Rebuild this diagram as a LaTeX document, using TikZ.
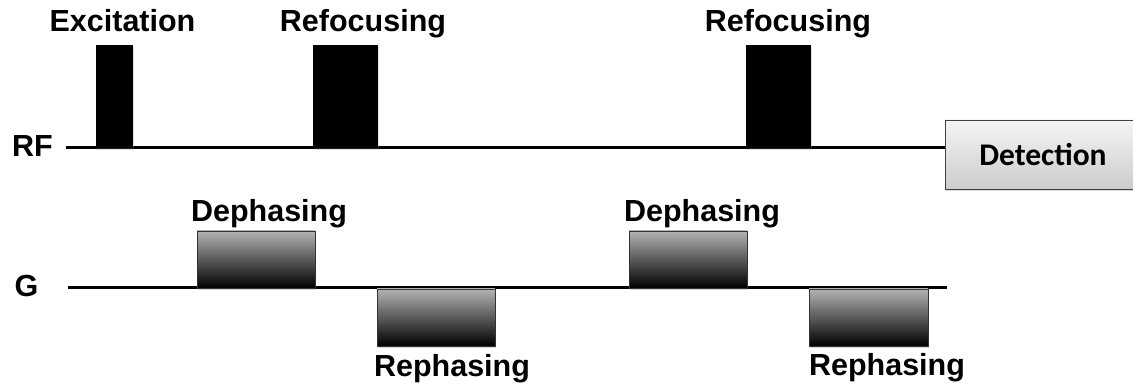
\documentclass[tikz,border=0pt]{standalone}
\usepackage{fontspec}
\setmainfont{Liberation Sans}
\newfontfamily\calfont{Carlito}
\usetikzlibrary{shadows}
\begin{document}
\begin{tikzpicture}[x=1pt,y=-1pt,
  lab/.style={font=\fontsize{30.5}{31}\selectfont\bfseries, inner sep=0pt, anchor=base},
  axis/.style={line width=3pt},
  pulse/.style={fill=black, draw=none, inner sep=0pt, outer sep=0pt, minimum height=103pt,
    drop shadow={opacity=0.25, shadow xshift=1pt, shadow yshift=-2pt}},
  grad/.style={draw=black!80, line width=0.8pt, inner sep=0pt, outer sep=0pt,
    minimum width=118pt, minimum height=57pt, top color=black!30, bottom color=black,
    drop shadow={opacity=0.3, shadow xshift=1pt, shadow yshift=-2pt}},
  detbox/.style={draw=black!75, line width=0.8pt, inner sep=0pt, outer sep=0pt,
    minimum width=195pt, minimum height=69pt, top color=black!4, bottom color=black!20,
    font=\calfont\fontsize{31.5}{32}\selectfont\bfseries,
    drop shadow={opacity=0.3, shadow xshift=1pt, shadow yshift=-2pt}}
]
\useasboundingbox (0,0) rectangle (1133,387);
\begin{scope}
\clip (0,0) rectangle (1133,387);
% RF row
\node[lab] (rf) at (32.5,157) {RF};
\coordinate (rfstart) at (66,148);
\node[detbox] (det) at (1042.5,154.5) {\hspace*{1pt}\raisebox{-2pt}{Detection}};
\draw[axis] (rfstart) -- (rfstart -| det.west);
\node[pulse, minimum width=37pt] (exc) at (114.5,96.5) {};
\node[pulse, minimum width=65pt] (ref1) at (345.5,96.5) {};
\node[pulse, minimum width=65pt] (ref2) at (778.5,96.5) {};
\node[lab] (excl) at (122.5,32) {Excitation};
\node[lab] (ref1l) at (363,32) {Refocusing};
\node[lab] (ref2l) at (788,32) {Refocusing};
% G row
\node[lab] (g) at (26.5,297) {G};
\coordinate (gstart) at (68,288);
\coordinate (gend) at (947,288);
\draw[axis] (gstart) -- (gend);
\node[grad] (dep1) at (256,259.5) {};
\node[grad] (rep1) at (436,317.5) {};
\node[grad] (dep2) at (688,259.5) {};
\node[grad, minimum width=119pt] (rep2) at (868.5,317.5) {};
\node[lab] (dep1l) at (269,222) {Dephasing};
\node[lab] (rep1l) at (452,377) {Rephasing};
\node[lab] (dep2l) at (702,222) {Dephasing};
\node[lab] (rep2l) at (887,376) {Rephasing};
\end{scope}
\end{tikzpicture}
\end{document}
